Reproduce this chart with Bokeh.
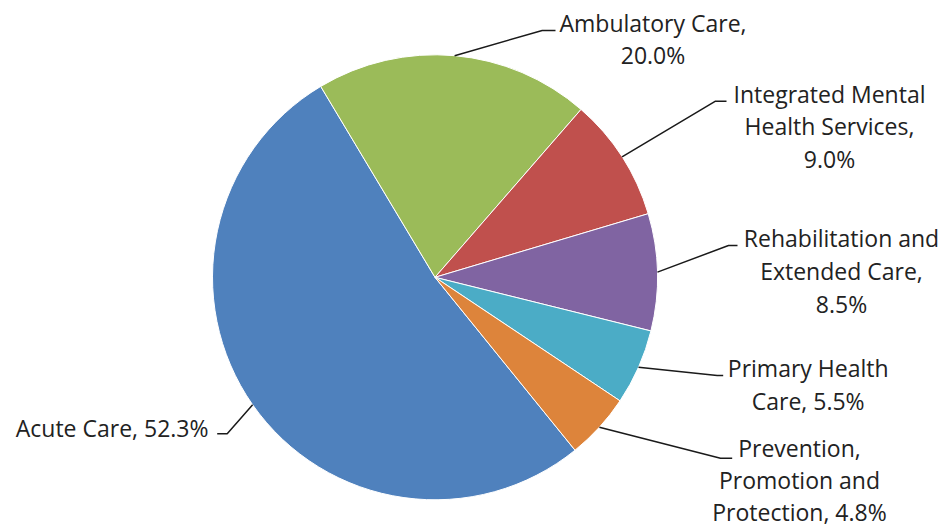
import math
from bokeh.plotting import figure
from bokeh.models import Range1d, ColumnDataSource
from bokeh.core.properties import value
from bokeh.embed import file_html
from bokeh.resources import INLINE

# ---- data ----
categories = ["Acute Care", "Ambulatory Care", "Integrated Mental\nHealth Services",
              "Rehabilitation and\nExtended Care", "Primary Health\nCare",
              "Prevention,\nPromotion and\nProtection"]
shares = [52.3, 20.0, 9.0, 8.5, 5.5, 4.8]
colors = ["#4F81BD", "#9BBB59", "#C0504D", "#8064A2", "#4BACC6", "#DD843B"]

# ---- layout (pixel coordinates, y measured from top) ----
W, H = 946, 527
CX, CY, R = 434.5, 276.8, 222.5
START_CW = 141.0  # first slice start, degrees clockwise from 12 o'clock
seps = [", ", ",\n", ",\n", ",\n", ", ", ", "]
label_x = [208.0, 652.5, 829.0, 841.0, 807.7, 799.0]
label_y = [427.0, 38.5, 126.0, 270.6, 384.0, 479.5]
label_lh = [1.03, 1.03, 1.03, 1.03, 1.03, 1.01]
label_align = ["right", "center", "center", "center", "center", "center"]
elbow = [(226.7, 433.3), (541.7, 30.0), (715.0, 100.7), (728.0, 245.0), (716.7, 375.0), (720.0, 457.7)]
tail = [(216.7, 433.3), (555.0, 30.0), (726.0, 100.7), (737.0, 245.0), (722.7, 375.0), (731.7, 457.7)]

def fy(y):
    return H - y

total = sum(shares)
starts, ends, mids = [], [], []
a = START_CW
for v in shares:
    span = v / total * 360.0
    starts.append(a)
    ends.append(a + span)
    mids.append(a + span / 2)
    a += span

p = figure(width=W, height=H, output_backend="svg", toolbar_location=None,
           x_range=Range1d(0, W), y_range=Range1d(0, H), min_border=0)
p.axis.visible = False
p.grid.visible = False
p.outline_line_color = None
p.background_fill_color = "white"
p.border_fill_color = "white"

src = ColumnDataSource(dict(
    start=[math.radians(90 - s) for s in starts],
    end=[math.radians(90 - e) for e in ends],
    color=colors,
))
p.wedge(x=CX, y=fy(CY), radius=R, start_angle="start", end_angle="end",
        direction="clock", fill_color="color", line_color="white", line_width=1,
        source=src)

xs, ys = [], []
for m, (ex, ey), (tx, ty) in zip(mids, elbow, tail):
    px = CX + R * math.sin(math.radians(m))
    py = CY - R * math.cos(math.radians(m))
    xs.append([px, ex, tx])
    ys.append([fy(py), fy(ey), fy(ty)])
p.multi_line(xs=xs, ys=ys, line_color="#1a1a1a", line_width=1.5)

texts = [f"{c}{s}{v:.1f}%" for c, s, v in zip(categories, seps, shares)]
for t, x, y, al, lh in zip(texts, label_x, label_y, label_align, label_lh):
    p.text(x=[x], y=[fy(y)], text=[t], text_align=al, text_baseline="middle",
           text_font=value("Open Sans"), text_font_size="23px",
           text_color="#222222", text_line_height=lh)

open("out.html", "w").write(file_html(p, INLINE))
